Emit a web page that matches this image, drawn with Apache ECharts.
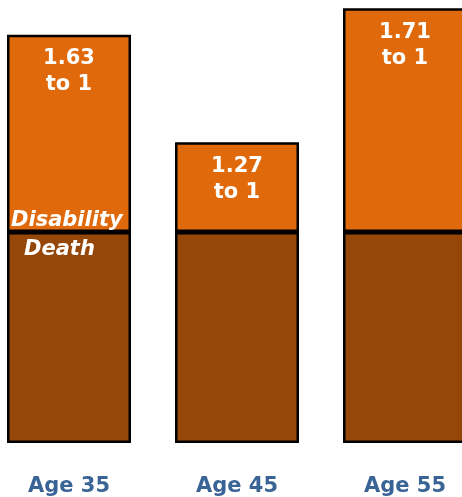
<!DOCTYPE html>
<html>
<head>
<meta charset="utf-8">
<script src="https://cdn.jsdelivr.net/npm/echarts@6/dist/echarts.min.js"></script>
<style>html,body{margin:0;padding:0;background:#fff;}#c{width:462px;height:497px;}</style>
</head>
<body>
<div id="c"></div>
<script>
const categories = ['Age 35', 'Age 45', 'Age 55'];
const deathValues = [100, 100, 100];
const disabilityValues = [93.5, 42.5, 106];
const ratioLabels = ['1.63\nto 1', '1.27\nto 1', '1.71\nto 1'];

const FONT = '"DejaVu Sans", Verdana, sans-serif';
const chart = echarts.init(document.getElementById('c'), null, {renderer: 'canvas'});

const deathData = deathValues.map((v, i) => i === 0 ? {
  value: v,
  label: {show: true, formatter: 'Death', position: 'insideTopLeft', distance: 4, offset: [13, 2],
    color: '#fff', fontFamily: FONT, fontWeight: 'bold', fontStyle: 'italic', fontSize: 21, lineHeight: 24}
} : v);

chart.setOption({
  animation: false,
  backgroundColor: '#fff',
  grid: {left: 69, right: 57, top: 21, bottom: 54, containLabel: false},
  xAxis: {
    type: 'category', data: categories, boundaryGap: false,
    axisLine: {show: false}, axisTick: {show: false},
    axisLabel: {color: '#3A6495', fontFamily: FONT, fontWeight: 'bold', fontSize: 21, margin: 33}
  },
  yAxis: {type: 'value', min: 0, max: 200, show: false, splitLine: {show: false}},
  series: [
    {
      name: 'Death', type: 'bar', stack: 'total', data: deathData, barWidth: 124, clip: false,
      itemStyle: {color: '#95470A', borderColor: '#000', borderWidth: 2.5}
    },
    {
      name: 'Disability', type: 'bar', stack: 'total', clip: false, barWidth: 124,
      data: disabilityValues.map((v, i) => ({
        value: v,
        label: {show: true, formatter: ratioLabels[i], position: 'insideTop', distance: 11,
          color: '#fff', fontFamily: FONT, fontWeight: 'bold', fontSize: 21, lineHeight: 26, align: 'center'}
      })),
      itemStyle: {color: '#E06A0B', borderColor: '#000', borderWidth: 2.5},
      z: 2
    },
    {
      name: 'DisabilityTag', type: 'bar', stack: 'tag', barWidth: 124, barGap: '-100%', clip: false,
      data: [deathValues[0] + disabilityValues[0], null, null].map((v, i) => i === 0 ? {
        value: v,
        itemStyle: {color: 'transparent'},
        label: {show: true, formatter: 'Disability', position: 'insideBottomLeft', distance: 0,
          offset: [4, 1 - 2.11 * deathValues[0]],
          color: '#fff', fontFamily: FONT, fontWeight: 'bold', fontStyle: 'italic', fontSize: 21, lineHeight: 24}
      } : v),
      silent: true, z: 3
    }
  ]
});
</script>
</body>
</html>
